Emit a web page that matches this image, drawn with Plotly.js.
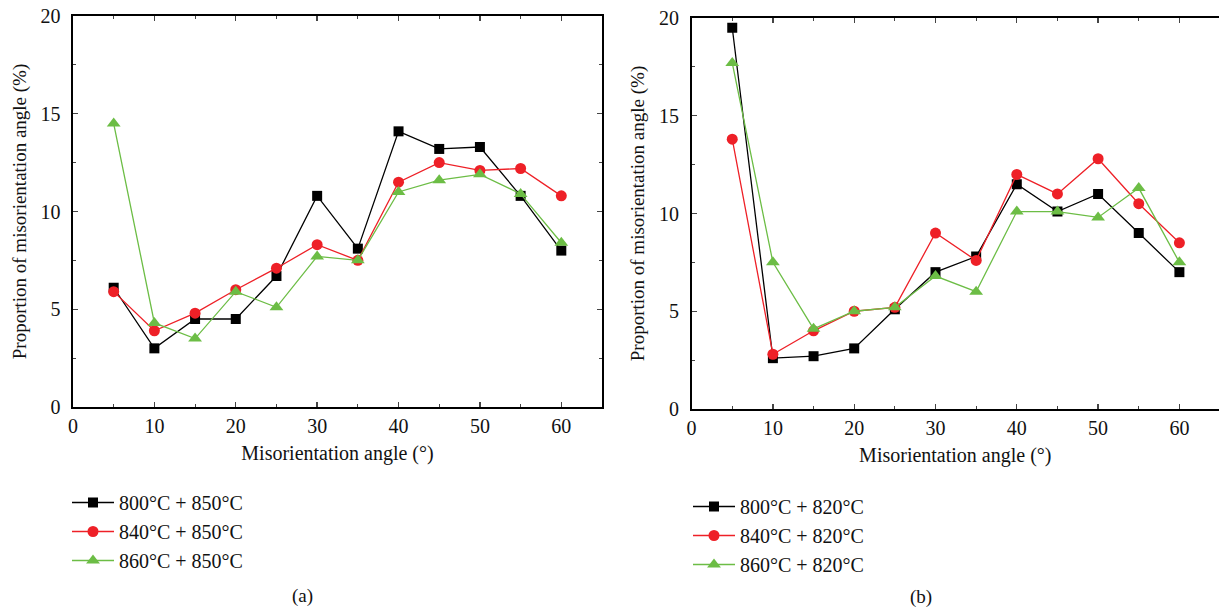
<!DOCTYPE html>
<html>
<head>
<meta charset="utf-8">
<script src="https://cdn.plot.ly/plotly-3.0.1.min.js"></script>
<style>html,body{margin:0;padding:0;background:#fff;}#chart{width:1219px;height:612px;}</style>
</head>
<body>
<div id="chart"></div>
<script>
// Misorientation angle (degrees)
const angles = [5, 10, 15, 20, 25, 30, 35, 40, 45, 50, 55, 60];

// Panel (a): second temperature 850°C
const a800 = [6.1, 3.0, 4.5, 4.5, 6.7, 10.8, 8.1, 14.1, 13.2, 13.3, 10.8, 8.0];
const a840 = [5.9, 3.9, 4.8, 6.0, 7.1, 8.3, 7.5, 11.5, 12.5, 12.1, 12.2, 10.8];
const a860 = [14.5, 4.3, 3.5, 5.9, 5.1, 7.7, 7.5, 11.0, 11.6, 11.9, 10.9, 8.4];

// Panel (b): second temperature 820°C
const b800 = [19.5, 2.6, 2.7, 3.1, 5.1, 7.0, 7.8, 11.5, 10.1, 11.0, 9.0, 7.0];
const b840 = [13.8, 2.8, 4.0, 5.0, 5.2, 9.0, 7.6, 12.0, 11.0, 12.8, 10.5, 8.5];
const b860 = [17.7, 7.5, 4.1, 5.0, 5.2, 6.8, 6.0, 10.1, 10.1, 9.8, 11.3, 7.5];

const namesA = ["800°C + 850°C", "840°C + 850°C", "860°C + 850°C"];
const namesB = ["800°C + 820°C", "840°C + 820°C", "860°C + 820°C"];
const xTitle = "Misorientation angle (°)";
const yTitle = "Proportion of misorientation angle (%)";

const W = 1219, H = 612;
const FONT = "Liberation Serif, Times New Roman, serif";
const colors = ["#000000", "#ee2027", "#6cbd45"];
const symbols = ["square", "circle", "triangle-up"];
const msize = [10, 11, 12];

function mk(y, i, name, xa, ya, leg) {
  return {
    x: angles, y: y, name: name, type: "scatter", mode: "lines+markers",
    xaxis: xa, yaxis: ya, legend: leg,
    line: {color: colors[i], width: 1.3},
    marker: {color: colors[i], symbol: symbols[i], size: msize[i]}
  };
}

const data = [
  mk(a800, 0, namesA[0], "x", "y", "legend"),
  mk(a840, 1, namesA[1], "x", "y", "legend"),
  mk(a860, 2, namesA[2], "x", "y", "legend"),
  mk(b800, 0, namesB[0], "x2", "y2", "legend2"),
  mk(b840, 1, namesB[1], "x2", "y2", "legend2"),
  mk(b860, 2, namesB[2], "x2", "y2", "legend2")
];

function px(v) { return v / W; }
function py(v) { return 1 - v / H; }

function xax(domain, range, anchor) {
  return {
    domain: domain, range: range, anchor: anchor,
    tickvals: [0, 10, 20, 30, 40, 50, 60], ticks: "inside", ticklen: 5, tickwidth: 1.3,
    minor: {dtick: 5, tick0: 0, ticks: "inside", ticklen: 3, tickwidth: 1},
    showline: true, linecolor: "#000", linewidth: 1.6, mirror: "allticks",
    showgrid: false, zeroline: false,
    tickfont: {family: FONT, size: 20, color: "#111"},
    title: {text: xTitle, font: {family: FONT, size: 20, color: "#111"}, standoff: 10}
  };
}
function yax(domain, anchor, mirror) {
  return {
    domain: domain, range: [0, 20], anchor: anchor,
    tickvals: [0, 5, 10, 15, 20], ticks: "inside", ticklen: 5, tickwidth: 1.3,
    minor: {dtick: 2.5, tick0: 0, ticks: "inside", ticklen: 3, tickwidth: 1},
    showline: true, linecolor: "#000", linewidth: 1.6, mirror: mirror,
    showgrid: false, zeroline: false, ticklabelstandoff: 7,
    tickfont: {family: FONT, size: 20, color: "#111"},
    title: {text: yTitle, font: {family: FONT, size: 19, color: "#111"}, standoff: 9}
  };
}

const legBase = {
  xanchor: "left", yanchor: "top", bgcolor: "rgba(0,0,0,0)",
  font: {family: FONT, size: 20, color: "#111"}, tracegroupgap: 0, itemwidth: 42
};

const layout = {
  width: W, height: H,
  margin: {l: 0, r: 0, t: 0, b: 0},
  paper_bgcolor: "#fff", plot_bgcolor: "#fff",
  showlegend: true,
  xaxis: xax([px(73), px(602)], [0, 65], "y"),
  yaxis: yax([py(407), py(16)], "x", "allticks"),
  xaxis2: xax([px(691.6), 1], [0, (W - 691.6) / 8.13], "y2"),
  yaxis2: yax([py(409), py(18)], "x2", false),
  legend: Object.assign({x: px(67), y: py(483)}, legBase),
  legend2: Object.assign({x: px(688), y: py(487)}, legBase),
  annotations: [
    {text: "(a)", x: px(302), y: py(596), xref: "paper", yref: "paper", showarrow: false,
     xanchor: "center", yanchor: "middle",
     font: {family: FONT, size: 19, color: "#111"}},
    {text: "(b)", x: px(921), y: py(597), xref: "paper", yref: "paper", showarrow: false,
     xanchor: "center", yanchor: "middle",
     font: {family: FONT, size: 19, color: "#111"}}
  ]
};

Plotly.newPlot("chart", data, layout, {displayModeBar: false, staticPlot: true});
</script>
</body>
</html>
